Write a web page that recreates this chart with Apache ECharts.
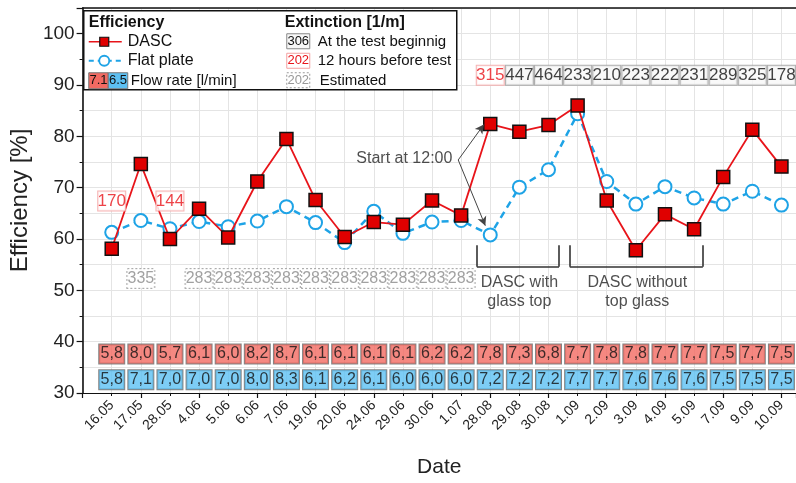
<!DOCTYPE html>
<html>
<head>
<meta charset="utf-8">
<script src="https://cdn.jsdelivr.net/npm/echarts@6/dist/echarts.min.js"></script>
<style>
  html, body { margin: 0; padding: 0; background: #fff; }
  #chart { width: 796px; height: 483px; }
</style>
</head>
<body>
<div id="chart"></div>
<script>
// Measurement dates (one category per test day)
const dates = ['16.05','17.05','28.05','4.06','5.06','6.06','7.06','19.06','20.06','24.06','29.06','30.06','1.07',
               '28.08','29.08','30.08','1.09','2.09','3.09','4.09','5.09','7.09','9.09','10.09'];

// Collector efficiency [%]
const dascEff = [58.1, 74.6, 60.0, 65.9, 60.3, 71.2, 79.5, 67.6, 60.4, 63.3, 62.8, 67.5, 64.6,
                 82.4, 80.9, 82.2, 86.0, 67.5, 57.8, 64.8, 61.9, 72.1, 81.3, 74.1];
const flatEff = [61.3, 63.6, 62.0, 63.4, 62.4, 63.5, 66.3, 63.2, 59.3, 65.4, 61.1, 63.3, 63.6,
                 60.8, 70.1, 73.5, 84.4, 71.2, 66.8, 70.2, 68.0, 66.8, 69.3, 66.6];

// Flow rate [l/min]
const dascFlow = [5.8, 8.0, 5.7, 6.1, 6.0, 8.2, 8.7, 6.1, 6.1, 6.1, 6.1, 6.2, 6.2,
                  7.8, 7.3, 6.8, 7.7, 7.8, 7.8, 7.7, 7.7, 7.5, 7.7, 7.5];
const flatFlow = [5.8, 7.1, 7.0, 7.0, 7.0, 8.0, 8.3, 6.1, 6.2, 6.1, 6.0, 6.0, 6.0,
                  7.2, 7.2, 7.2, 7.7, 7.7, 7.6, 7.6, 7.6, 7.5, 7.5, 7.5];

// Extinction [1/m]
const extAtStart = [null, null, null, null, null, null, null, null, null, null, null, null, null,
                    null, 447, 464, 233, 210, 223, 222, 231, 289, 325, 178];
const ext12h     = [170, null, 144, null, null, null, null, null, null, null, null, null, null,
                    315, null, null, null, null, null, null, null, null, null, null];
const extEstimated = [null, 335, null, 283, 283, 283, 283, 283, 283, 283, 283, 283, 283,
                      null, null, null, null, null, null, null, null, null, null, null];

// Y levels (in axis units) where the text-box rows sit
const ROW_EXT_TOP = 91.9;
const ROW_EXT_MID = 67.4;
const ROW_EXT_EST = 52.3;
const ROW_FLOW_DASC = 37.6;
const ROW_FLOW_FLAT = 32.6;

const X_MAX = 24.5;
const FONT = '"Liberation Sans", Arial, sans-serif';
const RED = '#e8141a';
const BLUE = '#1ea3e6';

const fmtComma = v => v.toFixed(1).replace('.', ',');

function boxRow(values, rowY, fmt) {
  const out = [];
  values.forEach((v, i) => {
    if (v === null) return;
    const y = typeof rowY === 'function' ? rowY(i) : rowY;
    out.push([i + 1, y, fmt ? fmt(v) : String(v)]);
  });
  return out;
}

function boxSeries(name, data, lbl) {
  return {
    name, type: 'scatter', data, symbolSize: 1,
    itemStyle: { color: 'rgba(0,0,0,0)' },
    silent: true, z: 6,
    label: Object.assign({
      show: true, position: 'inside', formatter: p => p.value[2],
      fontFamily: FONT, fontSize: 16, color: '#111',
      width: 25, height: 17, lineHeight: 17, align: 'center', verticalAlign: 'middle',
      padding: [1, 0, 1, 0], borderWidth: 1
    }, lbl)
  };
}

const chart = echarts.init(document.getElementById('chart'), null, { renderer: 'canvas' });

const seg = (a, b, arrow) => [
  { coord: a, symbol: 'none' },
  { coord: b, symbol: arrow ? 'arrow' : 'none' }
];

// Legend panel elements (drawn above the plot)
const legendItems = [
  { type: 'rect', shape: { x: 0, y: 0, width: 373, height: 79 }, style: { fill: '#fff', stroke: '#111', lineWidth: 1.5 } },
  { type: 'text', x: 5, y: 12, style: { text: 'Efficiency', font: 'bold 16px ' + FONT, fill: '#111', verticalAlign: 'middle' } },
  { type: 'line', shape: { x1: 5, y1: 31, x2: 38, y2: 31 }, style: { stroke: RED, lineWidth: 1.5 } },
  { type: 'rect', shape: { x: 16, y: 26.5, width: 9, height: 9 }, style: { fill: '#e00000', stroke: '#111', lineWidth: 1.2 } },
  { type: 'text', x: 44, y: 31, style: { text: 'DASC', font: '16px ' + FONT, fill: '#111', verticalAlign: 'middle' } },
  { type: 'line', shape: { x1: 5, y1: 50, x2: 38, y2: 50 }, style: { stroke: BLUE, lineWidth: 2, lineDash: [5, 4] } },
  { type: 'circle', shape: { cx: 20.5, cy: 50, r: 5 }, style: { fill: '#fff', stroke: BLUE, lineWidth: 1.8 } },
  { type: 'text', x: 44, y: 50, style: { text: 'Flat plate', font: '16px ' + FONT, fill: '#111', verticalAlign: 'middle' } },
  { type: 'rect', shape: { x: 5, y: 62, width: 19.5, height: 16 }, style: { fill: '#f26a62', stroke: '#777', lineWidth: 1 } },
  { type: 'text', x: 14.75, y: 70, style: { text: '7.1', font: '13px ' + FONT, fill: '#111', align: 'center', verticalAlign: 'middle' } },
  { type: 'rect', shape: { x: 24.5, y: 62, width: 19.5, height: 16 }, style: { fill: '#5cc0f2', stroke: '#777', lineWidth: 1 } },
  { type: 'text', x: 34.25, y: 70, style: { text: '6.5', font: '13px ' + FONT, fill: '#111', align: 'center', verticalAlign: 'middle' } },
  { type: 'text', x: 47, y: 70, style: { text: 'Flow rate [l/min]', font: '15px ' + FONT, fill: '#111', verticalAlign: 'middle' } },

  { type: 'text', x: 201, y: 12, style: { text: 'Extinction [1/m]', font: 'bold 16px ' + FONT, fill: '#111', verticalAlign: 'middle' } },
  { type: 'rect', shape: { x: 203, y: 23, width: 23, height: 15 }, style: { fill: '#f7f7f7', stroke: '#888', lineWidth: 1 } },
  { type: 'text', x: 214.5, y: 31, style: { text: '306', font: '13px ' + FONT, fill: '#111', align: 'center', verticalAlign: 'middle' } },
  { type: 'text', x: 234, y: 31, style: { text: 'At the test beginnig', font: '15px ' + FONT, fill: '#111', verticalAlign: 'middle' } },
  { type: 'rect', shape: { x: 203, y: 42.5, width: 23, height: 15 }, style: { fill: '#fff', stroke: '#f4a0a0', lineWidth: 1 } },
  { type: 'text', x: 214.5, y: 50, style: { text: '202', font: '13px ' + FONT, fill: '#e8141a', align: 'center', verticalAlign: 'middle' } },
  { type: 'text', x: 234, y: 50, style: { text: '12 hours before test', font: '15px ' + FONT, fill: '#111', verticalAlign: 'middle' } },
  { type: 'rect', shape: { x: 203, y: 62, width: 23, height: 15 }, style: { fill: '#fff', stroke: '#999', lineWidth: 1, lineDash: [2, 2] } },
  { type: 'text', x: 214.5, y: 70, style: { text: '202', font: '13px ' + FONT, fill: '#999', align: 'center', verticalAlign: 'middle' } },
  { type: 'text', x: 236, y: 70, style: { text: 'Estimated', font: '15px ' + FONT, fill: '#111', verticalAlign: 'middle' } }
].map(el => Object.assign({ z: 100 }, el));

const option = {
  animation: false,
  backgroundColor: '#fff',
  textStyle: { fontFamily: FONT },
  grid: { left: 81.4, top: 8, right: 0, bottom: 85 },
  xAxis: [
    {
      type: 'value', min: 0, max: X_MAX, interval: 1,
      axisLine: { show: true, lineStyle: { color: '#111', width: 1.2 } },
      axisTick: { show: false },
      axisLabel: {
        formatter: v => dates[v - 1] || '', rotate: 45, fontSize: 14, color: '#222',
        fontFamily: FONT, margin: 10, showMinLabel: true, showMaxLabel: false
      },
      splitLine: { show: true, lineStyle: { color: '#e4e4e4', width: 1 } },
      name: 'Date', nameLocation: 'middle', nameGap: 64,
      nameTextStyle: { fontSize: 21, color: '#222', fontFamily: FONT }
    },
    {
      type: 'value', min: 0, max: X_MAX, interval: 2, position: 'bottom',
      axisLine: { show: false },
      axisTick: { show: true, length: 5, lineStyle: { color: '#111', width: 1.2 } },
      minorTick: { show: true, splitNumber: 2, length: 3, lineStyle: { color: '#111', width: 1 } },
      axisLabel: { show: false },
      splitLine: { show: false }
    },
    {
      // top frame line
      type: 'value', min: 0, max: X_MAX, position: 'top',
      axisLine: { show: true, lineStyle: { color: '#111', width: 1.5 } },
      axisTick: { show: false }, axisLabel: { show: false }, splitLine: { show: false }
    }
  ],
  yAxis: [
    {
      type: 'value', min: 30, max: 105, interval: 5, position: 'left',
      axisLine: { show: true, lineStyle: { color: '#111', width: 1.6 } },
      axisTick: { show: true, length: 3, lineStyle: { color: '#111', width: 1 } },
      axisLabel: {
        formatter: v => (v % 10 === 0 && v <= 100) ? String(v) : '',
        fontSize: 19, color: '#222', fontFamily: FONT, margin: 8
      },
      splitLine: { show: true, lineStyle: { color: '#e4e4e4', width: 1 } },
      name: 'Efficiency [%]', nameLocation: 'middle', nameGap: 34,
      nameTextStyle: { fontSize: 24, color: '#222', fontFamily: FONT }
    },
    {
      type: 'value', min: 30, max: 105, interval: 10, position: 'left',
      axisLine: { show: false },
      axisTick: { show: true, length: 6, lineStyle: { color: '#111', width: 1.2 } },
      axisLabel: { show: false },
      splitLine: { show: false }
    }
  ],
  series: [
    {
      name: 'Flat plate', type: 'line', z: 3,
      data: flatEff.map((v, i) => [i + 1, v]),
      lineStyle: { color: BLUE, width: 2.5, type: [7, 5] },
      symbol: 'circle', symbolSize: 13,
      itemStyle: { color: '#fff', borderColor: BLUE, borderWidth: 2 }
    },
    {
      name: 'DASC', type: 'line', z: 4,
      data: dascEff.map((v, i) => [i + 1, v]),
      lineStyle: { color: RED, width: 1.8 },
      symbol: 'rect', symbolSize: 13,
      itemStyle: { color: '#e00000', borderColor: '#111', borderWidth: 1.5 },
      markLine: {
        silent: true, animation: false,
        symbolSize: [7, 9],
        label: { show: false },
        lineStyle: { color: '#333', width: 1, type: 'solid' },
        data: [
          seg([12.9, 75.4], [13.78, 82.3], true),
          seg([12.9, 75.4], [13.83, 62.6], true),
          seg([13.54, 58.8], [13.54, 54.6]),
          seg([13.54, 54.6], [16.36, 54.6]),
          seg([16.36, 54.6], [16.36, 58.8]),
          seg([16.73, 58.8], [16.73, 54.6]),
          seg([16.73, 54.6], [21.3, 54.6]),
          seg([21.3, 54.6], [21.3, 58.8])
        ].map((pair, k) => pair.map(p => Object.assign(
          { lineStyle: k < 2 ? { color: '#444', width: 1 } : { color: '#333', width: 1.6 } }, p)))
      }
    },
    boxSeries('Flow DASC', boxRow(dascFlow, ROW_FLOW_DASC, fmtComma),
      { backgroundColor: '#f26a62', borderColor: '#666', width: 25 }),
    boxSeries('Flow flat', boxRow(flatFlow, ROW_FLOW_FLAT, fmtComma),
      { backgroundColor: '#5cc0f2', borderColor: '#666', width: 25 }),
    boxSeries('Extinction start', boxRow(extAtStart, ROW_EXT_TOP),
      { backgroundColor: '#f7f7f7', borderColor: '#9a9a9a', width: 27, fontSize: 17 }),
    boxSeries('Extinction 12 h', boxRow(ext12h, i => (i >= 13 ? ROW_EXT_TOP : ROW_EXT_MID)),
      { backgroundColor: '#fff', borderColor: '#f4a0a0', color: '#e8141a', width: 27, fontSize: 17 }),
    boxSeries('Extinction estimated', boxRow(extEstimated, ROW_EXT_EST),
      { backgroundColor: '#fff', borderColor: '#999', borderType: [2, 2], color: '#8a8a8a', width: 27, fontSize: 16 }),
    {
      name: 'Notes', type: 'scatter', symbolSize: 1, silent: true, z: 7,
      itemStyle: { color: 'rgba(0,0,0,0)' },
      data: [
        [11.05, 75.6, 'Start at 12:00'],
        [15.0, 49.7, 'DASC with\nglass top'],
        [19.05, 49.7, 'DASC without\ntop glass']
      ],
      label: {
        show: true, position: 'inside', formatter: p => p.value[2],
        fontFamily: FONT, fontSize: 16, color: '#222', lineHeight: 19, align: 'center'
      }
    }
  ],
  graphic: [
    { type: 'group', left: 83, top: 10, z: 100, children: legendItems }
  ]
};

chart.setOption(option);
</script>
</body>
</html>
